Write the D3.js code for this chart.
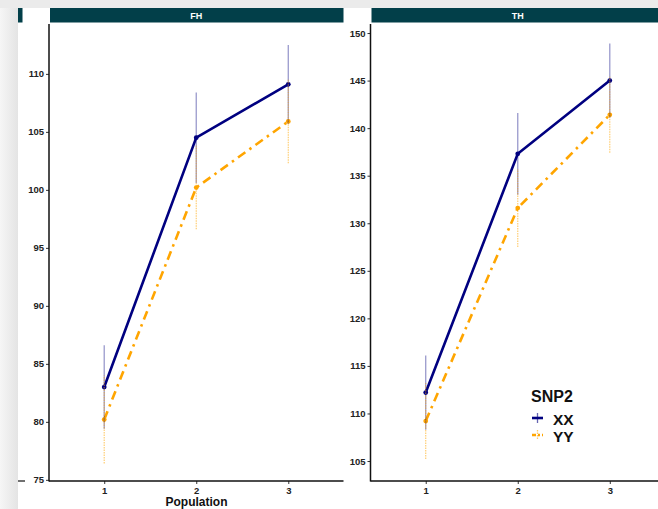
<!DOCTYPE html>
<html>
<head>
<meta charset="utf-8">
<script src="https://cdn.jsdelivr.net/npm/d3@7"></script>
<style>
  body { margin: 0; background: #fff; }
  svg { display: block; font-family: "Liberation Sans", Arial, sans-serif; }
</style>
</head>
<body>
<div id="chart_area"></div>
<script>
// values
var population = [1, 2, 3];
var genotypes = ["XX", "YY"];
var traits = ["FH", "TH"];

var fhXX = [83.0, 104.5, 109.1];
var fhXXerr = [3.6, 3.9, 3.4];
var fhYY = [80.2, 100.2, 105.9];
var fhYYerr = [3.8, 3.6, 3.6];

var thXX = [112.2, 137.3, 145.0];
var thXXerr = [3.9, 4.3, 3.9];
var thYY = [109.2, 131.6, 141.4];
var thYYerr = [4.0, 4.1, 4.0];

var fhTicks = [75, 80, 85, 90, 95, 100, 105, 110];
var thTicks = [105, 110, 115, 120, 125, 130, 135, 140, 145, 150];
var fhDomain = [74.9, 114.3];
var thDomain = [102.9, 150.95];

// build panel table
var panels = [
  { trait: "FH", ticks: fhTicks, domain: fhDomain, left: 49, right: 343.5,
    series: [{ g: "XX", mean: fhXX, err: fhXXerr }, { g: "YY", mean: fhYY, err: fhYYerr }] },
  { trait: "TH", ticks: thTicks, domain: thDomain, left: 370.5, right: 665,
    series: [{ g: "XX", mean: thXX, err: thXXerr }, { g: "YY", mean: thYY, err: thYYerr }] }
];

var color = d3.scaleOrdinal().domain(genotypes).range(["#000080", "#FFA500"]);
var dashes = { XX: null, YY: "9,5,2.5,5" };

var width = 658, height = 509;
var top_y = 24, bottom_y = 481;

var svg = d3.select("#chart_area").append("svg")
  .attr("width", width).attr("height", height);

// screenshot surroundings (window shadow, top band)
var grad = svg.append("defs").append("linearGradient").attr("id", "shade");
grad.append("stop").attr("offset", "0%").attr("stop-color", "#f6f6f6");
grad.append("stop").attr("offset", "100%").attr("stop-color", "#e4e4e4");
svg.append("rect").attr("x", 0).attr("y", 0).attr("width", 18).attr("height", height).attr("fill", "url(#shade)");
svg.append("rect").attr("x", 0).attr("y", 0).attr("width", width).attr("height", 8).attr("fill", "#ebebeb");
// bit of the neighbouring panel that got cut
svg.append("rect").attr("x", 18).attr("y", 8).attr("width", 4.5).attr("height", 14.5).attr("fill", "#023f49");
svg.append("line").attr("x1", 18).attr("x2", 25).attr("y1", bottom_y).attr("y2", bottom_y)
  .attr("stroke", "#111").attr("stroke-width", 1.2);

panels.forEach(function(p) {
  var x = d3.scaleLinear().domain([0.4, 3.6]).range([p.left, p.right]);
  var y = d3.scaleLinear().domain(p.domain).range([bottom_y, top_y]);
  var g = svg.append("g");

  // strip
  g.append("rect").attr("x", p.left + 1).attr("y", 8).attr("width", p.right - p.left - 1).attr("height", 14.5)
    .attr("fill", "#023f49");
  g.append("text").attr("x", (p.left + p.right) / 2).attr("y", 19)
    .attr("text-anchor", "middle").attr("fill", "#fff").attr("font-weight", "bold").attr("font-size", 9)
    .text(p.trait);

  // axes
  var yAxis = d3.axisLeft(y).tickValues(p.ticks).tickSize(3).tickPadding(2);
  var yg = g.append("g").attr("transform", "translate(" + p.left + ",0)").call(yAxis);
  var xAxis = d3.axisBottom(x).tickValues(population).tickFormat(d3.format("d")).tickSize(3).tickPadding(3);
  var xg = g.append("g").attr("transform", "translate(0," + bottom_y + ")").call(xAxis);
  [yg, xg].forEach(function(a) {
    a.select(".domain").remove();
    a.selectAll(".tick line").attr("stroke", "#333");
    a.selectAll(".tick text").attr("fill", "#222").attr("font-weight", "bold").attr("font-size", 9.5)
      .attr("font-family", "Liberation Sans, Arial, sans-serif");
  });
  g.append("line").attr("x1", p.left).attr("x2", p.left).attr("y1", top_y).attr("y2", bottom_y + 0.5)
    .attr("stroke", "#111").attr("stroke-width", 1.5);
  g.append("line").attr("x1", p.left).attr("x2", p.right).attr("y1", bottom_y).attr("y2", bottom_y)
    .attr("stroke", "#111").attr("stroke-width", 1.5);

  var line = d3.line()
    .x(function(d, i) { return x(population[i]); })
    .y(function(d) { return y(d); });

  p.series.forEach(function(s) {
    g.append("path").datum(s.mean)
      .attr("d", line)
      .attr("fill", "none")
      .attr("stroke", color(s.g))
      .attr("stroke-width", 2.6)
      .attr("stroke-dasharray", dashes[s.g]);
    g.selectAll(".pt" + s.g).data(s.mean).enter().append("circle")
      .attr("cx", function(d, i) { return x(population[i]); })
      .attr("cy", function(d) { return y(d); })
      .attr("r", 2.4)
      .attr("fill", color(s.g));
  });

  // error bars (translucent, no caps)
  p.series.forEach(function(s) {
    g.selectAll(".eb" + s.g).data(s.mean).enter().append("line")
      .attr("x1", function(d, i) { return x(population[i]); })
      .attr("x2", function(d, i) { return x(population[i]); })
      .attr("y1", function(d, i) { return y(d - s.err[i]); })
      .attr("y2", function(d, i) { return y(d + s.err[i]); })
      .attr("stroke", color(s.g))
      .attr("stroke-opacity", s.g == "XX" ? 0.4 : 0.55)
      .attr("stroke-width", s.g == "XX" ? 1.3 : 1.2)
      .attr("stroke-dasharray", s.g == "XX" ? null : "1.5,1");
  });
});

// x axis title (under the first panel)
svg.append("text").attr("x", 196.5).attr("y", 506)
  .attr("text-anchor", "middle").attr("font-weight", "bold").attr("font-size", 12).attr("fill", "#111")
  .text("Population");

// legend
var legend = svg.append("g").attr("transform", "translate(531,0)");
legend.append("text").attr("x", 0).attr("y", 401.5)
  .attr("font-weight", "bold").attr("font-size", 16).attr("fill", "#111").text("SNP2");
genotypes.forEach(function(gn, i) {
  var cy = 418 + i * 17;
  var k = legend.append("g");
  k.append("line").attr("x1", 1).attr("x2", 12).attr("y1", cy).attr("y2", cy)
    .attr("stroke", color(gn)).attr("stroke-width", 2.6)
    .attr("stroke-dasharray", gn == "XX" ? null : "4,2,2,2");
  k.append("line").attr("x1", 6.5).attr("x2", 6.5).attr("y1", cy - 5).attr("y2", cy + 5)
    .attr("stroke", color(gn)).attr("stroke-width", 1.3).attr("stroke-opacity", 0.6)
    .attr("stroke-dasharray", gn == "XX" ? null : "1.5,1");
  legend.append("text").attr("x", 22).attr("y", cy + 6.5)
    .attr("font-weight", "bold").attr("font-size", 15.5).attr("fill", "#111").text(gn);
});
</script>
</body>
</html>
